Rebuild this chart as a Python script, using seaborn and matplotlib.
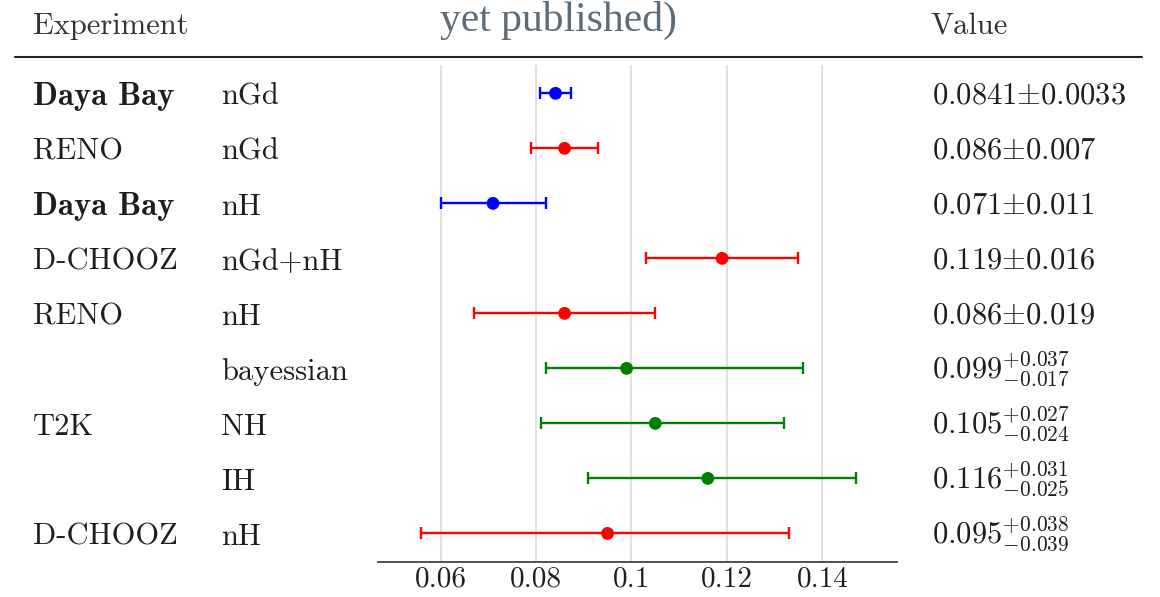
import numpy as np
import pandas as pd
import seaborn as sns
import matplotlib
matplotlib.use("Agg")
import matplotlib.pyplot as plt
from matplotlib.transforms import blended_transform_factory, ScaledTranslation
from matplotlib.lines import Line2D

# ---- data ----
experiments = ["Daya Bay", "RENO", "Daya Bay", "D-CHOOZ", "RENO", "", "T2K", "", "D-CHOOZ"]
bold_flags = [True, False, True, False, False, False, False, False, False]
methods = ["nGd", "nGd", "nH", "nGd+nH", "nH", "bayessian", "NH", "IH", "nH"]
values = [0.0841, 0.086, 0.071, 0.119, 0.086, 0.099, 0.105, 0.116, 0.095]
err_plus = [0.0033, 0.007, 0.011, 0.016, 0.019, 0.037, 0.027, 0.031, 0.038]
err_minus = [0.0033, 0.007, 0.011, 0.016, 0.019, 0.017, 0.024, 0.025, 0.039]
colors = ["blue", "red", "blue", "red", "red", "green", "green", "green", "red"]
value_labels = [r"$0.0841{\pm}0.0033$", r"$0.086{\pm}0.007$", r"$0.071{\pm}0.011$",
                r"$0.119{\pm}0.016$", r"$0.086{\pm}0.019$",
                r"$0.099^{+0.037}_{-0.017}$", r"$0.105^{+0.027}_{-0.024}$",
                r"$0.116^{+0.031}_{-0.025}$", r"$0.095^{+0.038}_{-0.039}$"]
xticks = [0.06, 0.08, 0.10, 0.12, 0.14]
xtick_labels = ["0.06", "0.08", "0.1", "0.12", "0.14"]

df = pd.DataFrame({"row": np.arange(len(values)), "value": values,
                   "lo": err_minus, "hi": err_plus, "color": colors})

sns.set_theme(style="white")
plt.rcParams["mathtext.fontset"] = "cm"
plt.rcParams["axes.unicode_minus"] = False

W, H = 1160, 597
fig = plt.figure(figsize=(W / 100, H / 100), dpi=100)
ax = fig.add_axes([377.5 / W, (H - 562) / H, (896.8 - 377.5) / W, (562 - 65) / H])

FS = 22
TXT = "#1e1e1e"
for _, r in df.iterrows():
    ax.errorbar(r["value"], r["row"], xerr=[[r["lo"]], [r["hi"]]], fmt="none",
                ecolor=r["color"], elinewidth=1.7, capsize=4.5, capthick=1.7, zorder=3)
sns.scatterplot(data=df, x="value", y="row", hue="color",
                palette={c: c for c in set(colors)}, s=85, edgecolor="none",
                legend=False, ax=ax, zorder=4)

ax.set_xlim(0.0468, 0.1556)
ax.set_ylim(len(values) - 1 + 0.52, -0.515)
ax.set_xticks(xticks)
ax.set_xticklabels(xtick_labels, fontfamily="cmr10", fontsize=21, color=TXT)
ax.set_yticks([])
ax.set_xlabel("")
ax.set_ylabel("")
ax.tick_params(axis="x", length=0, pad=3)
for x in xticks:
    ax.axvline(x, color="#dddddd", lw=1.3, zorder=0)
for s in ["top", "left", "right"]:
    ax.spines[s].set_visible(False)
ax.spines["bottom"].set_color("#444444")
ax.spines["bottom"].set_linewidth(1.3)

tr = blended_transform_factory(fig.transFigure, ax.transData)
tr_lab = tr + ScaledTranslation(0, -11.5 / 100, fig.dpi_scale_trans)
tr_val = tr + ScaledTranslation(0, -10.5 / 100, fig.dpi_scale_trans)
for i in range(len(values)):
    if experiments[i]:
        ax.text(32.7 / W, i, experiments[i], transform=tr_lab, clip_on=False,
                fontfamily="cmb10" if bold_flags[i] else "cmr10",
                fontsize=23.5 if bold_flags[i] else FS,
                va="baseline", ha="left", color=TXT)
    ax.text(221 / W, i, methods[i], transform=tr_lab, clip_on=False,
            fontfamily="cmr10", fontsize=FS, va="baseline", ha="left", color=TXT)
    ax.text(932 / W, i, value_labels[i], transform=tr_val, clip_on=False,
            fontsize=FS, va="baseline", ha="left", color=TXT)

fig.text(32.7 / W, 1 - 34 / H, "Experiment", fontfamily="cmr10", fontsize=FS,
         va="baseline", ha="left", color="#333333")
fig.text(930 / W, 1 - 34 / H, "Value", fontfamily="cmr10", fontsize=FS,
         va="baseline", ha="left", color="#333333")
fig.add_artist(Line2D([15 / W, 1142 / W], [1 - 57 / H, 1 - 57 / H],
                      transform=fig.transFigure, color="#222222", lw=1.5))
fig.text(559 / W, 1 - 31 / H, "yet published)", fontfamily="Liberation Serif",
         fontsize=30, va="baseline", ha="center", color="#5c6b78")

fig.savefig("out.png", dpi=100)
